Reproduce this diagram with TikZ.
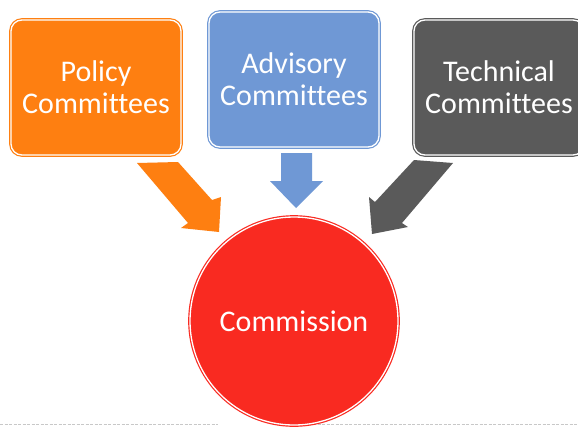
\documentclass[tikz,border=0pt]{standalone}
\usepackage{fontspec}
\setmainfont{Carlito}[Ligatures=NoCommon]
\definecolor{porange}{HTML}{FE7F11}
\definecolor{pblue}{HTML}{6F98D5}
\definecolor{pgray}{HTML}{5A5A5A}
\definecolor{pred}{HTML}{F92A21}
\definecolor{dashgray}{HTML}{C8C8C8}
\begin{document}
\begin{tikzpicture}[x=1pt,y=-1pt,
  cbox/.style={rectangle, rounded corners=11pt, minimum width=170pt, minimum height=135pt,
    fill=#1, draw=#1, line width=1.2pt, double=white, double distance=1.3pt,
    text=white, align=center, font=\fontsize{30}{32}\selectfont, inner sep=0pt},
  blockarrow/.style={fill=#1, draw=none}]
\clip (0,0) rectangle (578,426);
\fill[white] (0,0) rectangle (578,426);
% dashed separator
\draw[dashgray, line width=1pt, dash pattern=on 3pt off 1.5pt] (0,424.5) -- (218,424.5);
\draw[dashgray, line width=1pt, dash pattern=on 3pt off 1.5pt] (313,424.5) -- (578,424.5);
% block arrows
\fill[porange] (137,163) -- (178,162) -- (212,200) -- (221,197) -- (219,232) -- (181,228) -- (188,223) -- cycle;
\fill[pblue] (281,153) -- (312,153) -- (312,181) -- (323,181) -- (296,208) -- (270,181) -- (281,181) -- cycle;
\fill[pgray] (414,160) -- (453,163) -- (402,223) -- (408,227) -- (372,234) -- (369,197) -- (375,202) -- cycle;
% boxes
\node[cbox=porange] (policy) at (96,87.5) {Policy\\Committees};
\node[cbox=pblue] (advisory) at (294,79.5) {Advisory\\Committees};
\node[cbox=pgray] (technical) at (499,87.5) {Technical\\Committees};
% circle
\node[circle, minimum size=208pt, inner sep=0pt, fill=pred, draw=pred, line width=1.2pt,
  double=white, double distance=1.3pt, text=white, font=\fontsize{30}{32}\selectfont]
  (commission) at (294,321) {Commission};
\end{tikzpicture}
\end{document}
